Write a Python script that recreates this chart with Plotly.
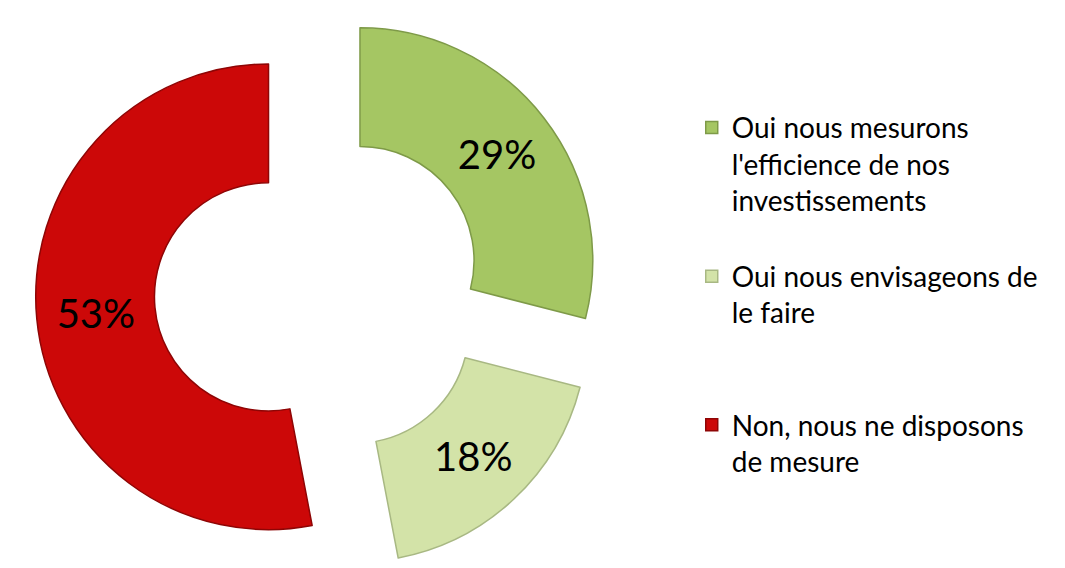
import plotly.graph_objects as go

labels = ["Oui nous mesurons<br>l'efficience de nos<br>investissements<br>&nbsp;",
          "Oui nous envisageons de<br>le faire<br>&nbsp;<br>&nbsp;",
          "Non, nous ne disposons<br>de mesure"]
values = [29, 18, 53]
colors = ["#A5C663", "#D3E3A8", "#CC0808"]
edge_colors = ["#7E9A48", "#A8B883", "#8E0505"]

fig = go.Figure(go.Pie(
    labels=labels, values=values, sort=False, direction="clockwise", rotation=0,
    hole=0.49, pull=[0.22, 0.22, 0.22],
    marker=dict(colors=colors, line=dict(color=edge_colors, width=1.5)),
    texttemplate="%{percent:.0%}", textinfo="percent", textposition="inside",
    insidetextorientation="horizontal",
    textfont=dict(family="Lato", size=40, color="black"),
    domain=dict(x=[0, 0.585], y=[0, 1]),
    hoverinfo="skip",
))
fig.update_layout(
    width=1065, height=568, margin=dict(l=0, r=0, t=0, b=0),
    paper_bgcolor="white", plot_bgcolor="white",
    showlegend=True,
    legend=dict(x=0.642, y=0.833, xanchor="left", yanchor="top", valign="top",
                font=dict(family="Lato", size=28, color="black"),
                bgcolor="rgba(0,0,0,0)"),
)
fig.write_html("out.html")
